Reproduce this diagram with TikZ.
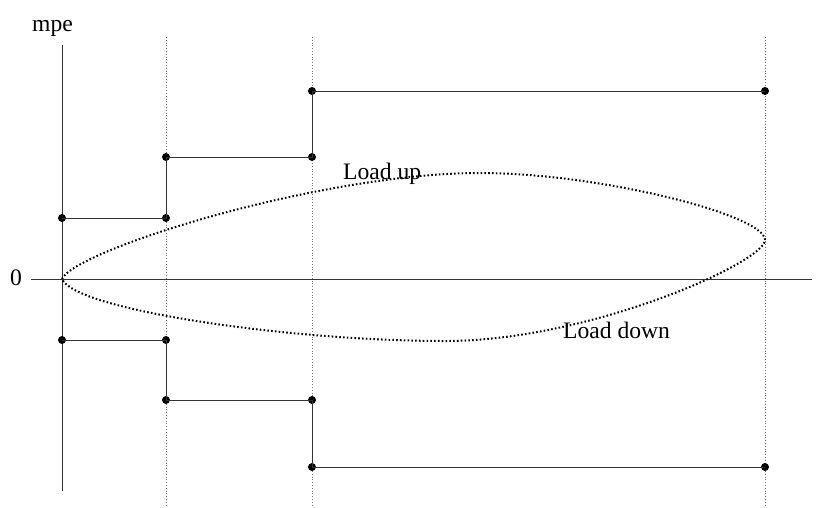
\documentclass[tikz,border=0pt]{standalone}
\usepackage{fontspec}
\setmainfont{Liberation Serif}
\begin{document}
\begin{tikzpicture}[x=1pt,y=-1pt,
  axis/.style={draw=black!80,line width=1pt},
  guide/.style={draw=black!55,line width=0.8pt,dotted},
  stepline/.style={draw=black!80,line width=1pt},
  dotpt/.style={circle,fill=black,inner sep=0pt,minimum size=8pt},
  curve/.style={draw=black,line width=2pt,dash pattern=on 1.6pt off 2.2pt},
  lbl/.style={anchor=base west,inner sep=0pt,font=\fontsize{23.6}{28}\selectfont}]
\useasboundingbox (0,0) rectangle (827,507);
% labels
\node[lbl] (mpe) at (32,31) {mpe};
\node[lbl] (zero) at (10,285) {0};
\node[lbl] (up) at (343,179) {Load up};
\node[lbl] (down) at (563,338) {Load down};
% guides
\coordinate (g1t) at (166,37); \coordinate (g1b) at (166,505);
\coordinate (g2t) at (312,37); \coordinate (g2b) at (312,505);
\coordinate (g3t) at (765,37); \coordinate (g3b) at (765,505);
\draw[guide] (g1t) -- (g1b);
\draw[guide] (g2t) -- (g2b);
\draw[guide] (g3t) -- (g3b);
% axes
\coordinate (vt) at (62,45); \coordinate (vb) at (62,491);
\coordinate (hl) at (31,279); \coordinate (hr) at (812,279);
\draw[axis] (vt) -- (vb);
\draw[axis] (hl) -- (hr);
% upper steps
\node[dotpt] (u1) at (62,218) {};
\node[dotpt] (u2) at (166,218) {};
\node[dotpt] (u3) at (166,157) {};
\node[dotpt] (u4) at (312,157) {};
\node[dotpt] (u5) at (312,91) {};
\node[dotpt] (u6) at (765,91) {};
\draw[stepline] (u1.center) -- (u2.center) -- (u3.center) -- (u4.center) -- (u5.center) -- (u6.center);
% lower steps
\node[dotpt] (l1) at (62,340) {};
\node[dotpt] (l2) at (166,340) {};
\node[dotpt] (l3) at (166,400) {};
\node[dotpt] (l4) at (312,400) {};
\node[dotpt] (l5) at (312,467) {};
\node[dotpt] (l6) at (765,467) {};
\draw[stepline] (l1.center) -- (l2.center) -- (l3.center) -- (l4.center) -- (l5.center) -- (l6.center);
% load curve
\coordinate (c0) at (62,279);
\coordinate (ctop) at (480,173);
\coordinate (ctip) at (765,240);
\coordinate (cbot) at (445,341);
\draw[curve] (c0) .. controls (75,250) and (320,173) .. (ctop)
  .. controls (600,173) and (765,215) .. (ctip)
  .. controls (765,262) and (590,341) .. (cbot)
  .. controls (290,341) and (75,310) .. (c0);
\end{tikzpicture}
\end{document}
